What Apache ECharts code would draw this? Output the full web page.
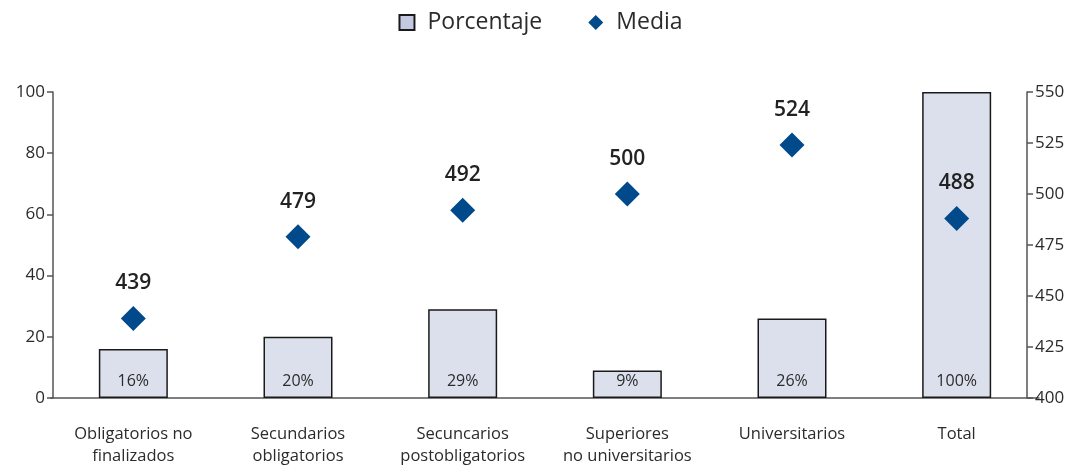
<!DOCTYPE html>
<html>
<head>
<meta charset="utf-8">
<script src="https://cdn.jsdelivr.net/npm/echarts@6/dist/echarts.min.js"></script>
<style>
  html, body { margin: 0; padding: 0; background: #ffffff; }
  #chart { width: 1081px; height: 468px; }
</style>
</head>
<body>
<div id="chart"></div>
<script>
// Education level categories
const categories = [
  'Obligatorios no\nfinalizados',
  'Secundarios\nobligatorios',
  'Secuncarios\npostobligatorios',
  'Superiores\nno universitarios',
  'Universitarios',
  'Total'
];
// Share of population in each level (%)
const porcentaje = [16, 20, 29, 9, 26, 100];
// Mean score for each level
const media = [439, 479, 492, 500, 524, 488];

const FONT = '"Open Sans", "DejaVu Sans", sans-serif';
const TEXT = '#2b2b2b';

const chart = echarts.init(document.getElementById('chart'), null, { renderer: 'canvas' });

chart.setOption({
  backgroundColor: '#ffffff',
  textStyle: { fontFamily: FONT },
  legend: {
    top: 6,
    left: 'center',
    itemGap: 46,
    itemWidth: 15,
    itemHeight: 15,
    textStyle: { fontSize: 23, color: TEXT, fontFamily: FONT, padding: [0, 0, 0, 8] },
    data: [
      { name: 'Porcentaje', icon: 'rect', itemStyle: { color: '#c4c9e0', borderColor: '#1a1a1a', borderWidth: 2 } },
      { name: 'Media', icon: 'diamond' }
    ]
  },
  grid: { left: 51, right: 42, top: 92, bottom: 70 },
  xAxis: {
    type: 'category',
    data: categories,
    boundaryGap: true,
    axisLine: { lineStyle: { color: '#555555', width: 1.5 } },
    axisTick: { show: false },
    axisLabel: { fontSize: 16.5, color: TEXT, fontFamily: FONT, margin: 25, lineHeight: 22, interval: 0 }
  },
  yAxis: [
    {
      type: 'value',
      min: 0,
      max: 100,
      interval: 20,
      position: 'left',
      offset: -2,
      splitLine: { show: false },
      axisLine: { show: true, lineStyle: { color: '#555555', width: 1.5 } },
      axisTick: { show: true, length: 6, lineStyle: { color: '#555555', width: 1.5 } },
      axisLabel: { fontSize: 17, color: TEXT, fontFamily: FONT, margin: 8 }
    },
    {
      type: 'value',
      min: 400,
      max: 550,
      interval: 25,
      position: 'right',
      offset: -12,
      splitLine: { show: false },
      axisLine: { show: true, lineStyle: { color: '#555555', width: 1.5 } },
      axisTick: { show: true, length: 6, lineStyle: { color: '#555555', width: 1.5 } },
      axisLabel: { fontSize: 17, color: TEXT, fontFamily: FONT, margin: 8 }
    }
  ],
  series: [
    {
      name: 'Porcentaje',
      type: 'bar',
      yAxisIndex: 0,
      barWidth: 69,
      data: porcentaje,
      itemStyle: { color: '#dbe0ec', borderColor: '#1a1a1a', borderWidth: 1.5 },
      label: {
        show: true,
        position: 'insideBottom',
        distance: 9,
        fontSize: 16,
        color: TEXT,
        fontFamily: FONT,
        formatter: p => p.value + '%'
      },
      z: 2
    },
    {
      name: 'Media',
      type: 'scatter',
      yAxisIndex: 1,
      symbol: 'diamond',
      symbolSize: 25,
      data: media,
      itemStyle: { color: '#004a8c', opacity: 1 },
      label: {
        show: true,
        position: 'top',
        distance: 12,
        fontSize: 21,
        fontWeight: 600,
        color: '#222222',
        fontFamily: FONT
      },
      z: 3
    }
  ]
});
</script>
</body>
</html>
